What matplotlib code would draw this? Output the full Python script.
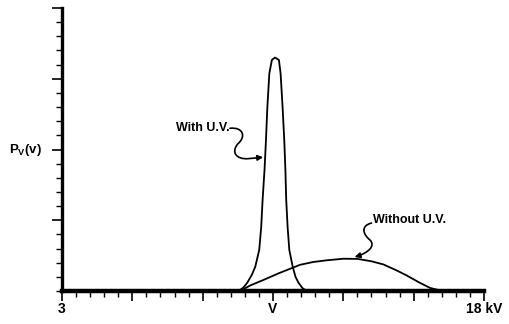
import numpy as np
import matplotlib
matplotlib.use('Agg')
import matplotlib.pyplot as plt
from matplotlib.path import Path
from matplotlib.patches import FancyArrowPatch
from matplotlib.ticker import MultipleLocator

plt.rcParams['font.family'] = ['Liberation Sans', 'DejaVu Sans']
plt.rcParams['mathtext.fontset'] = 'custom'
plt.rcParams['mathtext.rm'] = 'Liberation Sans:bold'
plt.rcParams['mathtext.it'] = 'Liberation Sans:bold'

# кривая "With U.V." (кВ, P)
uv_kv = [9.28, 9.45, 9.58, 9.75, 9.87, 10.01, 10.08, 10.13, 10.20, 10.25, 10.30, 10.37,
         10.46, 10.57, 10.71, 10.77, 10.84, 10.90, 10.94, 10.97, 11.02, 11.08, 11.20,
         11.30, 11.41, 11.55, 11.71]
uv_p = [0.0, 0.25, 0.57, 1.15, 1.72, 2.9, 4.5, 6.43, 8.6, 10.67, 13.02, 15.38,
        16.33, 16.5, 16.33, 15.38, 13.02, 10.67, 8.6, 6.43, 4.5, 2.9, 1.72,
        1.0, 0.57, 0.2, 0.0]

# кривая "Without U.V."
nouv_kv = [9.33, 9.7, 10.16, 10.7, 11.17, 11.46, 11.93, 12.41, 13.0, 13.5, 14.0,
           14.42, 14.9, 15.25, 15.7, 16.08, 16.4, 16.72]
nouv_p = [0.0, 0.4, 0.78, 1.25, 1.62, 1.85, 2.05, 2.17, 2.28, 2.27, 2.1,
          1.88, 1.45, 1.1, 0.6, 0.22, 0.06, 0.0]

xtick_pos = [3, 5.5, 8, 10.5, 13, 15.5, 18]
xtick_labels = ['3', '', '', 'V', '', '', '18 kV']

fig = plt.figure(figsize=(5.1, 3.24), dpi=100)
ax = fig.add_axes([62 / 510, 33 / 324, 422 / 510, 283 / 324])

ax.plot(uv_kv, uv_p, color='black', lw=1.3, solid_joinstyle='round')
ax.plot(nouv_kv, nouv_p, color='black', lw=1.3, solid_joinstyle='round')

ax.set_xlim(3, 18)
ax.set_ylim(0, 20)

for s in ('top', 'right'):
    ax.spines[s].set_visible(False)
ax.spines['bottom'].set_linewidth(3.2)
ax.spines['left'].set_linewidth(2.4)

ax.set_xticks(xtick_pos)
ax.set_xticklabels(xtick_labels, fontweight='bold', fontsize=10)
ax.xaxis.set_minor_locator(MultipleLocator(0.5))
ax.set_yticks([5, 10, 15, 20])
ax.set_yticklabels([])
ax.yaxis.set_minor_locator(MultipleLocator(1))
ax.tick_params(axis='both', which='major', length=7, width=1.2, color='black', pad=1)
ax.tick_params(axis='both', which='minor', length=4, width=1.0, color='black')

ax.text(-0.125, 0.5, r'$\mathrm{P_V(v)}$', transform=ax.transAxes, fontsize=9.5,
        ha='left', va='center')

# подписи со "змейками"
ax.text(8.95, 11.5, 'With U.V.', fontsize=9, fontweight='bold', ha='right', va='center')
squig1 = Path([(8.97, 11.5), (9.45, 11.6), (9.55, 10.9), (9.25, 10.4),
               (9.0, 9.8), (9.2, 9.3), (9.6, 9.35), (10.15, 9.45)],
              [Path.MOVETO, Path.CURVE4, Path.CURVE4, Path.CURVE4,
               Path.CURVE4, Path.CURVE4, Path.CURVE4, Path.LINETO])
ax.add_patch(FancyArrowPatch(path=squig1, arrowstyle='-|>', mutation_scale=8,
                             color='black', lw=1.2))

ax.text(14.05, 5.0, 'Without U.V.', fontsize=9, fontweight='bold', ha='left', va='center')
squig2 = Path([(14.0, 4.8), (13.6, 4.6), (13.7, 4.0), (13.95, 3.6),
               (14.15, 3.2), (13.9, 2.7), (13.4, 2.4)],
              [Path.MOVETO, Path.CURVE4, Path.CURVE4, Path.CURVE4,
               Path.CURVE4, Path.CURVE4, Path.CURVE4])
ax.add_patch(FancyArrowPatch(path=squig2, arrowstyle='-|>', mutation_scale=8,
                             color='black', lw=1.2))

fig.savefig('out.png', dpi=100)
